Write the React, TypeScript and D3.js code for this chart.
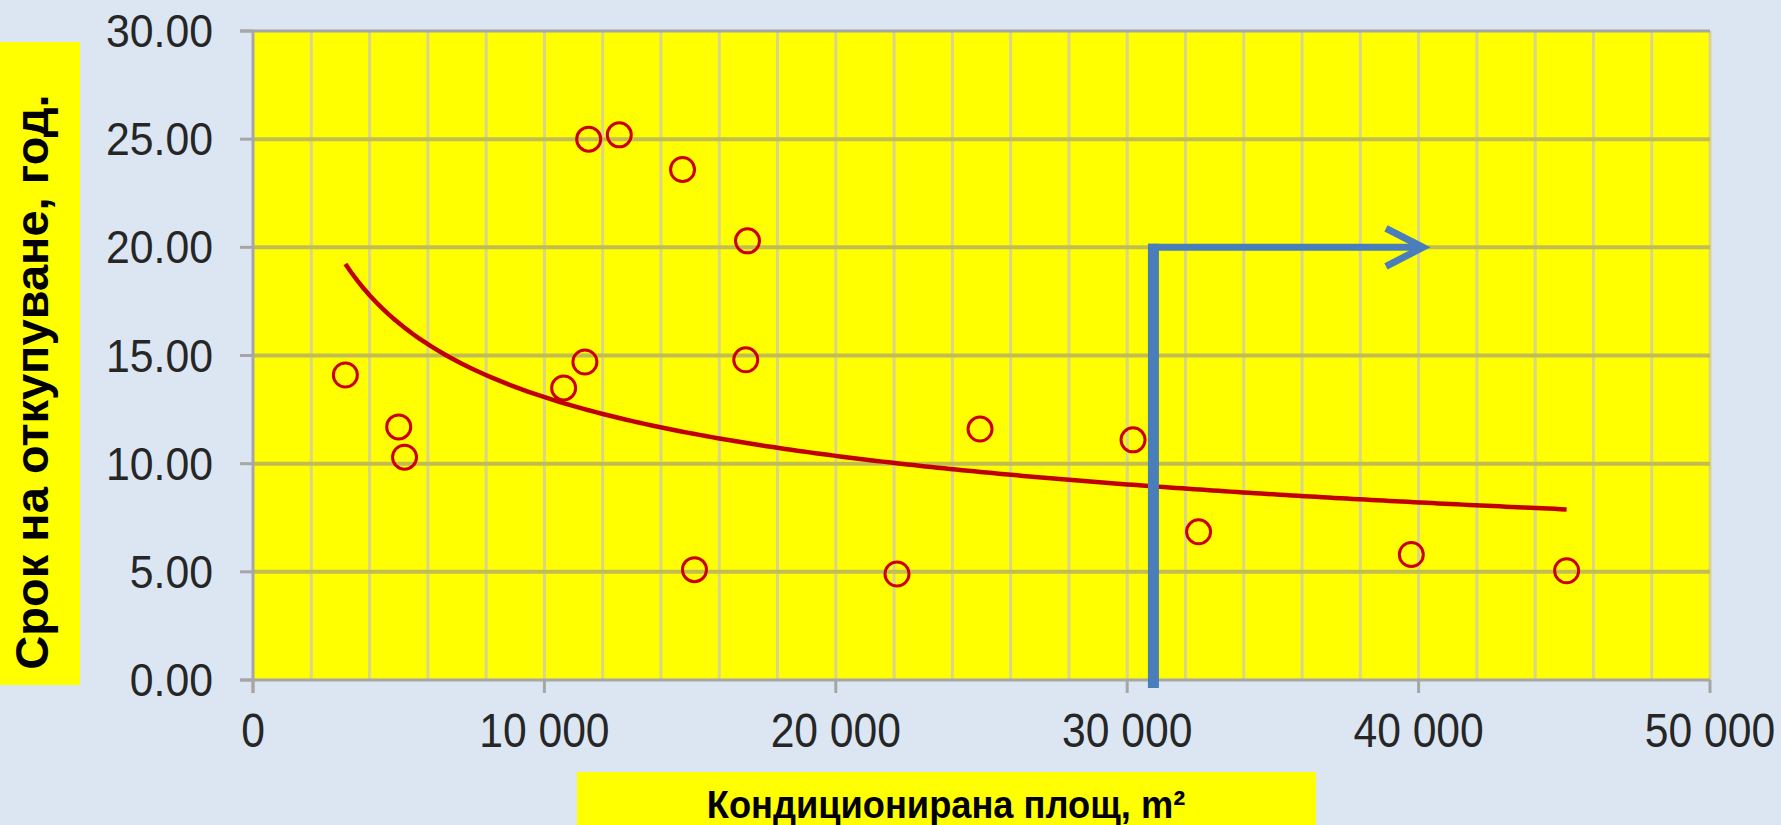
import React from "react";
import * as d3 from "d3";

// Conditioned floor area (m²) of each building and its payback period (years)
const areaM2 = [3170, 5000, 5200, 10660, 11390, 11520, 12570, 14740, 16970, 16910, 15150, 22100, 24950, 30200, 32450, 39750, 45080];
const paybackYears = [14.1, 11.7, 10.3, 13.5, 14.7, 25.0, 25.2, 23.6, 20.3, 14.8, 5.1, 4.9, 11.6, 11.1, 6.85, 5.8, 5.05];

const xTicks = [0, 10000, 20000, 30000, 40000, 50000];
const yTicks = [0, 5, 10, 15, 20, 25, 30];
const xMinorStep = 2000;

// Marker showing how the reading is taken: up from the area, then across at the payback value
const guideArea = 30900;
const guideYears = 20;
const guideArrowEnd = 40150;

const yTitle = "Срок на откупуване, год.";
const xTitle = "Кондиционирана площ, m²";

const W = 1781;
const H = 825;

const bgColor = "#dce6f2";
const plotColor = "#ffff00";
const axisColor = "#a6a6a6";
const markColor = "#cc0000";
const guideColor = "#4a7ebb";

const fmtX = d3.formatLocale({ decimal: ".", thousands: " ", grouping: [3], currency: ["", ""] }).format(",");
const fmtY = d3.format(".2f");

// Least-squares power fit y = a·x^b (log–log regression)
function powerFit(xs: number[], ys: number[]) {
  const lx = xs.map(Math.log);
  const ly = ys.map(Math.log);
  const mx = d3.mean(lx) as number;
  const my = d3.mean(ly) as number;
  let sxy = 0;
  let sxx = 0;
  lx.forEach((v, i) => {
    sxy += (v - mx) * (ly[i] - my);
    sxx += (v - mx) * (v - mx);
  });
  const b = sxy / sxx;
  const a = Math.exp(my - b * mx);
  return (x: number) => a * Math.pow(x, b);
}

export default function App() {
  const x = d3.scaleLinear().domain([0, 50000]).range([253, 1710]);
  const y = d3.scaleLinear().domain([0, 30]).range([680, 31]);

  const [x0, x1] = x.range();
  const [yb, yt] = y.range();

  const fit = powerFit(areaM2, paybackYears);
  const [minX, maxX] = d3.extent(areaM2) as [number, number];
  const trendXs = d3.range(0, 201).map((i) => minX + ((maxX - minX) * i) / 200);
  const trendPath = d3
    .line<number>()
    .x((v) => x(v))
    .y((v) => y(fit(v)))(trendXs) as string;

  const minorXs = d3.range(xMinorStep, 50000 + 1, xMinorStep);
  const majorYs = yTicks.filter((t) => t > 0 && t < 30);

  const gx = x(guideArea);
  const gy = y(guideYears);
  const gEnd = x(guideArrowEnd);

  const tickFont = "Arial, 'Liberation Sans', sans-serif";

  return (
    <div style={{ position: "absolute", left: 0, top: 0, width: W, height: H }}>
      <svg width={W} height={H} style={{ display: "block" }}>
        <rect x={0} y={0} width={W} height={H} fill={bgColor} />

        {/* plot area */}
        <rect x={x0} y={yt} width={x1 - x0} height={yb - yt} fill={plotColor} />

        {/* vertical gridlines */}
        {minorXs.map((v) => (
          <line key={"vx" + v} x1={x(v)} x2={x(v)} y1={yt} y2={yb} stroke="#d9d58a" strokeWidth={3} />
        ))}

        {/* horizontal gridlines */}
        {majorYs.map((v) => (
          <line key={"hy" + v} x1={x0} x2={x1} y1={y(v)} y2={y(v)} stroke="#c2bd50" strokeWidth={4} />
        ))}
        <line x1={x0 - 13} x2={x1} y1={yt} y2={yt} stroke={axisColor} strokeWidth={3} />

        {/* axes */}
        <line x1={x0} x2={x0} y1={yt} y2={yb + 13} stroke={axisColor} strokeWidth={3} />
        <line x1={x0 - 13} x2={x1} y1={yb} y2={yb} stroke={axisColor} strokeWidth={3} />
        {yTicks.map((t) => (
          <line key={"yt" + t} x1={x0 - 13} x2={x0} y1={y(t)} y2={y(t)} stroke={axisColor} strokeWidth={3} />
        ))}
        {xTicks.map((t) => (
          <line key={"xt" + t} x1={x(t)} x2={x(t)} y1={yb} y2={yb + 13} stroke={axisColor} strokeWidth={3} />
        ))}

        {/* tick labels */}
        {yTicks.map((t) => (
          <text
            key={"yl" + t}
            transform={`translate(${x0 - 40},${y(t) + 16}) scale(0.91,1)`}
            textAnchor="end"
            fontFamily={tickFont}
            fontSize={47}
            fill="#262626"
          >
            {fmtY(t)}
          </text>
        ))}
        {xTicks.map((t) => (
          <text
            key={"xl" + t}
            transform={`translate(${x(t)},${yb + 67}) scale(0.87,1)`}
            textAnchor="middle"
            fontFamily={tickFont}
            fontSize={49}
            fill="#262626"
          >
            {fmtX(t)}
          </text>
        ))}

        {/* data points */}
        {areaM2.map((a, i) => (
          <circle key={"p" + i} cx={x(a)} cy={y(paybackYears[i])} r={12} fill="none" stroke={markColor} strokeWidth={3} />
        ))}

        {/* power trendline */}
        <path d={trendPath} fill="none" stroke="#c00000" strokeWidth={4.5} />

        {/* reading guide */}
        <line x1={gx} x2={gx} y1={yb + 8} y2={gy - 3.5} stroke={guideColor} strokeWidth={11} />
        <line x1={gx - 5} x2={gEnd - 2} y1={gy} y2={gy} stroke={guideColor} strokeWidth={7} />
        <polyline
          points={`${gEnd - 37},${gy - 19} ${gEnd},${gy} ${gEnd - 37},${gy + 19}`}
          fill="none"
          stroke={guideColor}
          strokeWidth={7}
          strokeLinejoin="miter"
        />

        {/* axis titles */}
        <rect x={0} y={42} width={80} height={643} fill={plotColor} />
        <text
          transform={`translate(48,382) rotate(-90)`}
          textAnchor="middle"
          fontFamily={tickFont}
          fontWeight="bold"
          fontSize={47}
          fill="#000"
        >
          {yTitle}
        </text>

        <rect x={577} y={772} width={739} height={H - 772} fill={plotColor} />
        <text
          transform={`translate(946,818) scale(0.93,1)`}
          textAnchor="middle"
          fontFamily={tickFont}
          fontWeight="bold"
          fontSize={39}
          fill="#000"
        >
          {xTitle}
        </text>
      </svg>
    </div>
  );
}
